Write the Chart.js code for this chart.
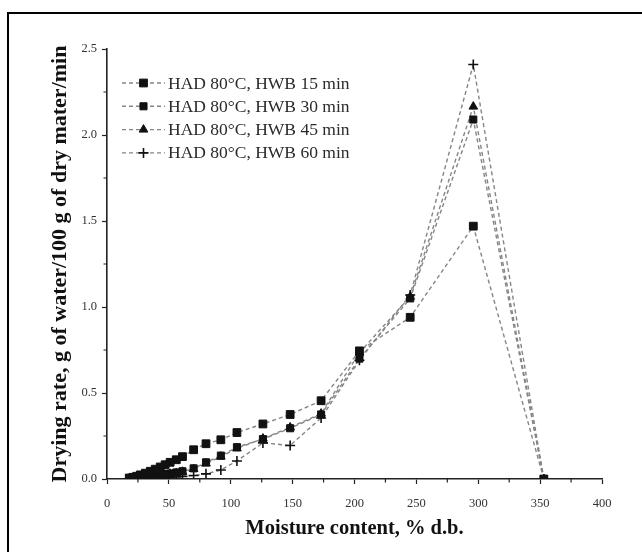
<!DOCTYPE html>
<html>
<head>
<meta charset="utf-8">
<script src="https://cdn.jsdelivr.net/npm/chart.js@4/dist/chart.umd.min.js"></script>
<style>
  html, body { margin: 0; padding: 0; background: #fff; overflow: hidden; }
  #wrap { position: relative; width: 642px; height: 552px; }
  #frame { position: absolute; left: 7px; top: 12px; width: 700px; height: 600px; border: 2px solid #000; box-sizing: border-box; }
  #c { position: absolute; left: 0; top: 0; }
</style>
</head>
<body>
<div id="wrap">
  <div id="frame"></div>
  <canvas id="c" width="642" height="552"></canvas>
</div>
<script>
// Moisture content (% d.b.) at each measurement, shared by all series
const moisture = [353, 296, 245, 204, 173, 148, 126, 105, 92, 80, 70, 61, 56, 51, 47, 43, 39, 35, 31, 27, 24, 21, 18];

// Drying rate (g water / 100 g dry matter / min) for each HWB pretreatment time
const rate15 = [0, 1.47, 0.94, 0.745, 0.455, 0.375, 0.32, 0.27, 0.228, 0.205, 0.17, 0.13, 0.112, 0.097, 0.083, 0.07, 0.057, 0.045, 0.034, 0.024, 0.016, 0.01, 0.006];
const rate30 = [0, 2.09, 1.05, 0.70, 0.375, 0.295, 0.232, 0.185, 0.136, 0.097, 0.062, 0.045, 0.038, 0.032, 0.027, 0.022, 0.018, 0.014, 0.011, 0.008, 0.006, 0.004, 0.003];
const rate45 = [0, 2.165, 1.06, 0.735, 0.38, 0.30, 0.235, 0.178, 0.13, 0.09, 0.058, 0.042, 0.035, 0.03, 0.025, 0.02, 0.016, 0.013, 0.01, 0.007, 0.005, 0.003, 0.002];
const rate60 = [0, 2.41, 1.07, 0.69, 0.355, 0.195, 0.21, 0.105, 0.052, 0.03, 0.02, 0.015, 0.012, 0.01, 0.008, 0.006, 0.005, 0.004, 0.003, 0.002, 0.001, 0.001, 0.0];

const seriesLabels = ['HAD 80°C, HWB 15 min', 'HAD 80°C, HWB 30 min', 'HAD 80°C, HWB 45 min', 'HAD 80°C, HWB 60 min'];
const xTitle = 'Moisture content, % d.b.';
const yTitle = 'Drying rate, g of water/100 g of dry mater/min';

const SERIF = '"Liberation Serif", "DejaVu Serif", serif';

function toPoints(values) {
  return values.map((v, i) => ({ x: moisture[i], y: v }));
}

const styles = [
  { pointStyle: 'rect', pointRadius: 5.5, pointBorderWidth: 1 },
  { pointStyle: 'rect', pointRadius: 5, pointBorderWidth: 1 },
  { pointStyle: 'triangle', pointRadius: 5, pointBorderWidth: 1 },
  { pointStyle: 'cross', pointRadius: 5, pointBorderWidth: 1.6 }
];

const datasets = [rate15, rate30, rate45, rate60].map((vals, i) => ({
  label: seriesLabels[i],
  data: toPoints(vals),
  borderColor: '#858585',
  borderWidth: 1.4,
  borderDash: [4, 3],
  backgroundColor: '#111',
  pointBackgroundColor: '#111',
  pointBorderColor: '#111',
  pointStyle: styles[i].pointStyle,
  pointRadius: styles[i].pointRadius,
  pointBorderWidth: styles[i].pointBorderWidth,
  showLine: true,
  tension: 0,
  fill: false
}));

// Short minor ticks between the labelled ones on both axes
const minorTicks = {
  id: 'minorTicks',
  afterDraw(chart) {
    const { ctx, scales: { x, y } } = chart;
    ctx.save();
    ctx.strokeStyle = '#222';
    ctx.lineWidth = 1.2;
    ctx.beginPath();
    for (let v = 25; v < 400; v += 50) {
      const px = x.getPixelForValue(v);
      ctx.moveTo(px, y.bottom);
      ctx.lineTo(px, y.bottom + 3.5);
    }
    for (let v = 0.25; v < 2.5; v += 0.5) {
      const py = y.getPixelForValue(v);
      ctx.moveTo(x.left, py);
      ctx.lineTo(x.left - 3.5, py);
    }
    ctx.stroke();
    ctx.restore();
  }
};

// Legend drawn inside the plot area: dashed sample line, marker, label
const innerLegend = {
  id: 'innerLegend',
  afterDatasetsDraw(chart) {
    const { ctx, chartArea } = chart;
    const x0 = chartArea.left + 15;
    const y0 = chartArea.top + 34;
    const rowH = 23.3;
    ctx.save();
    chart.data.datasets.forEach((ds, i) => {
      const yy = y0 + i * rowH;
      ctx.setLineDash([4, 3]);
      ctx.strokeStyle = '#858585';
      ctx.lineWidth = 1.4;
      ctx.beginPath();
      ctx.moveTo(x0, yy);
      ctx.lineTo(x0 + 43, yy);
      ctx.stroke();
      ctx.setLineDash([]);
      ctx.fillStyle = '#111';
      ctx.strokeStyle = '#111';
      ctx.lineWidth = ds.pointBorderWidth;
      if (Chart.helpers && Chart.helpers.drawPoint) {
        Chart.helpers.drawPoint(ctx, { pointStyle: ds.pointStyle, radius: ds.pointRadius, rotation: 0, borderWidth: ds.pointBorderWidth }, x0 + 21.5, yy);
      }
      ctx.fillStyle = '#2a2a2a';
      ctx.font = '17.5px ' + SERIF;
      ctx.textBaseline = 'middle';
      ctx.textAlign = 'left';
      ctx.fillText(ds.label, x0 + 46, yy + 1);
    });
    ctx.restore();
  }
};

new Chart(document.getElementById('c'), {
  type: 'scatter',
  data: { datasets },
  plugins: [minorTicks, innerLegend],
  options: {
    responsive: false,
    animation: false,
    devicePixelRatio: 1,
    layout: { padding: { top: 49, right: 40, left: 0, bottom: 0 } },
    plugins: {
      legend: { display: false },
      tooltip: { enabled: false }
    },
    scales: {
      x: {
        type: 'linear',
        min: 0,
        max: 400,
        afterFit(scale) { scale.height = 73; },
        ticks: {
          stepSize: 50,
          padding: 12,
          color: '#333',
          font: { family: SERIF, size: 12.5 }
        },
        grid: { drawOnChartArea: false, drawTicks: true, tickLength: 5, tickColor: '#222', tickWidth: 1.2 },
        border: { display: true, color: '#222', width: 1.6 },
        title: {
          display: true,
          text: xTitle,
          color: '#111',
          font: { family: SERIF, size: 20.5, weight: 'bold' },
          padding: { top: 0, bottom: 11 }
        }
      },
      y: {
        type: 'linear',
        min: 0,
        max: 2.5,
        afterFit(scale) { scale.width = 107; },
        ticks: {
          stepSize: 0.5,
          padding: 5,
          color: '#333',
          font: { family: SERIF, size: 12.5 },
          callback: (v) => Number(v).toFixed(1)
        },
        grid: { drawOnChartArea: false, drawTicks: true, tickLength: 5, tickColor: '#222', tickWidth: 1.2 },
        border: { display: true, color: '#222', width: 1.6 },
        title: {
          display: true,
          text: yTitle,
          color: '#111',
          font: { family: SERIF, size: 22, weight: 'bold' },
          padding: { top: 47, bottom: 0 }
        }
      }
    }
  }
});
</script>
</body>
</html>
